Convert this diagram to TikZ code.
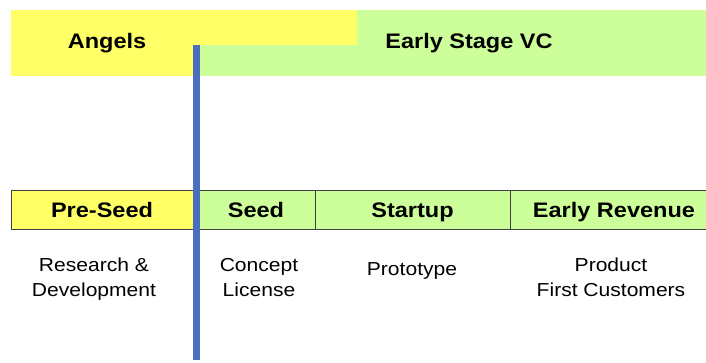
\documentclass[tikz,border=0pt]{standalone}
\usepackage{fontspec}
\setmainfont{Liberation Sans}[FakeStretch=1.12]
\definecolor{angelyellow}{HTML}{FFFF66}
\definecolor{vcgreen}{HTML}{CCFF99}
\definecolor{barblue}{HTML}{4A6FBE}
\begin{document}
\begin{tikzpicture}[x=1pt,y=-1pt,
  headtext/.style={font=\fontsize{21}{25}\selectfont\bfseries, inner sep=0pt,
                   text height=16pt, text depth=0pt},
  stagebox/.style={draw=black!75, line width=0.9pt, minimum height=39pt, inner sep=0pt,
                   text height=16pt, text depth=0pt,
                   font=\fontsize{21}{25}\selectfont\bfseries},
  desc/.style={font=\fontsize{18.8}{25}\selectfont, align=center, inner sep=0pt}]
\useasboundingbox (0,0) rectangle (706,362);

% funding bands
\fill[angelyellow] (11,10) rectangle (357,76);
\fill[vcgreen] (357,10) rectangle (706,45);
\fill[vcgreen] (197,45) rectangle (706,76);
\node[headtext] (angels) at (107,40.5) {Angels};
\node[headtext] (vc) at (469,40.5) {Early Stage VC};

% stage row
\node[stagebox, fill=angelyellow, minimum width=182pt] (preseed) at (102,209.5) {Pre-Seed};
\node[stagebox, fill=vcgreen, minimum width=118pt] (seed) at (256,209.5) {Seed};
\node[stagebox, fill=vcgreen, minimum width=195pt] (startup) at (412.5,209.5) {Startup};
\node[stagebox, fill=vcgreen, minimum width=208pt] (revenue) at (614,209.5) {Early Revenue};

% descriptions
\node[desc] (rd) at (94,279.2) {\strut Research \&\\\strut Development};
\node[desc] (concept) at (259,279.2) {\strut Concept\\\strut License};
\node[desc] (proto) at (412,270.7) {\strut Prototype};
\node[desc] (product) at (611,279.2) {\strut Product\\\strut First Customers};

% divider
\fill[barblue] (193,45) rectangle (200,360);
\end{tikzpicture}
\end{document}
